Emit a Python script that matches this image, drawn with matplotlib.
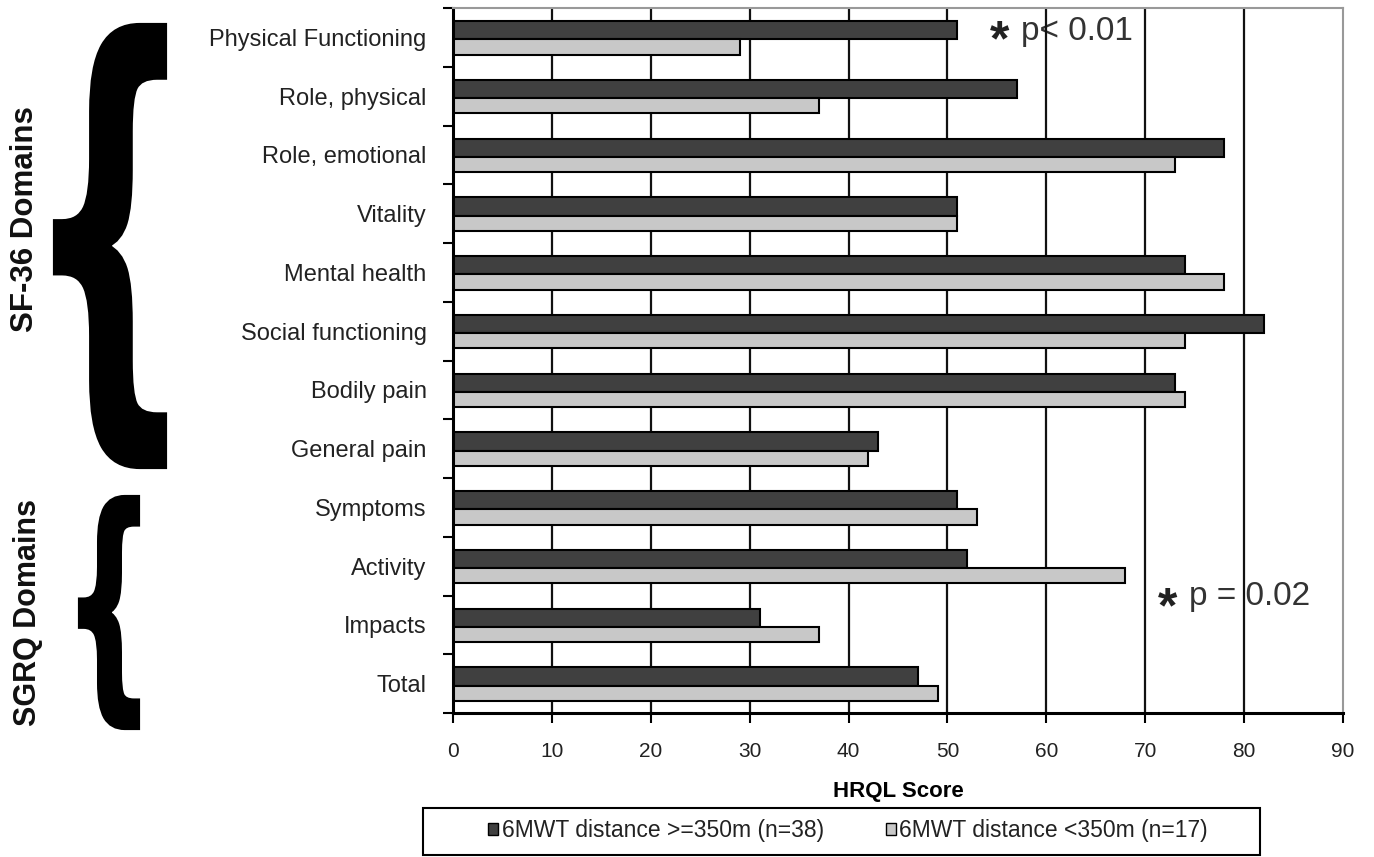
import numpy as np
import matplotlib
matplotlib.use("Agg")
import matplotlib.pyplot as plt
from matplotlib.textpath import TextPath
from matplotlib.font_manager import FontProperties
from matplotlib.patches import PathPatch, Patch, Rectangle
from matplotlib.transforms import Affine2D

plt.rcParams["font.family"] = ["Liberation Sans", "DejaVu Sans"]

# Data
domains = ["Physical Functioning", "Role, physical", "Role, emotional", "Vitality",
           "Mental health", "Social functioning", "Bodily pain", "General pain",
           "Symptoms", "Activity", "Impacts", "Total"]
high_walk = [51, 57, 78, 51, 74, 82, 73, 43, 51, 52, 31, 47]   # >=350m
low_walk = [29, 37, 73, 51, 78, 74, 74, 42, 53, 68, 37, 49]    # <350m
xticks = list(range(0, 91, 10))
label_high = "6MWT distance >=350m (n=38)"
label_low = "6MWT distance <350m (n=17)"

W, H = 1374, 857
fig = plt.figure(figsize=(W / 100, H / 100), dpi=100)
ax = fig.add_axes([453 / W, 1 - 713 / H, (1343 - 453) / W, 705 / H])

y = np.arange(len(domains))
dark = "#404040"
light = "#c8c8c8"

for gx in xticks[1:-1]:
    ax.axvline(gx, color="#111111", lw=1.6, zorder=1)

ax.barh(y - 0.12, high_walk, height=0.31, color=dark, edgecolor="black", lw=1.5, zorder=2)
ax.barh(y + 0.165, low_walk, height=0.26, color=light, edgecolor="black", lw=1.5, zorder=2)

ax.set_xlim(0, 90)
ax.set_ylim(len(domains) - 0.5, -0.5)
ax.set_xticks(xticks)
ax.set_xticklabels([str(v) for v in xticks], fontsize=15, color="#222222")
ax.tick_params(axis="x", length=7, width=1.5, direction="out", pad=14)
ax.set_yticks(y)
ax.set_yticklabels(domains, fontsize=17, color="#222222")
ax.set_yticks(np.arange(-0.5, len(domains)), minor=True)
ax.tick_params(axis="y", which="major", length=0, pad=19)
ax.tick_params(axis="y", which="minor", length=7, width=1.5, direction="out")
ax.set_xlabel("HRQL Score", fontsize=16, fontweight="bold", labelpad=14)

for side in ["left", "bottom"]:
    ax.spines[side].set_linewidth(2.2)
    ax.spines[side].set_color("black")
for side in ["top", "right"]:
    ax.spines[side].set_linewidth(1.5)
    ax.spines[side].set_color("#999999")

# significance notes
ax.text(55.3, 0.08, "*", fontsize=36, fontweight="bold", ha="center", va="center", color="#222222", zorder=0.5)
ax.text(57.4, 0.045, "p< 0.01", fontsize=24, ha="left", va="baseline", color="#333333", zorder=0.5)
ax.text(72.3, 9.74, "*", fontsize=36, fontweight="bold", ha="center", va="center", color="#222222", zorder=0.5)
ax.text(74.4, 9.66, "p = 0.02", fontsize=24, ha="left", va="baseline", color="#333333", zorder=0.5)

# legend (box drawn separately to match its wide side padding)
fig.add_artist(Rectangle((423 / W, 1 - 855 / H), (1260 - 423) / W, 47 / H,
                         transform=fig.transFigure, facecolor="white",
                         edgecolor="black", lw=1.5))
handles = [Patch(facecolor=dark, edgecolor="black", label=label_high),
           Patch(facecolor=light, edgecolor="black", label=label_low)]
leg = fig.legend(handles=handles, loc="center", ncol=2, fontsize=16.5,
                 bbox_to_anchor=(848 / W, 1 - 831 / H), frameon=False,
                 handlelength=0.45, handleheight=0.45, handletextpad=0.15, columnspacing=2.7,
                 borderpad=0, borderaxespad=0)
for t in leg.get_texts():
    t.set_color("#222222")


# curly braces
def brace(x0, y0, x1, y1):
    fp = FontProperties(family="DejaVu Sans", weight="bold")
    tp = TextPath((0, 0), "{", size=1, prop=fp)
    bb = tp.get_extents()
    fx0, fx1 = x0 / W, x1 / W
    fy0, fy1 = 1 - y1 / H, 1 - y0 / H
    tr = (Affine2D().translate(-bb.x0, -bb.y0)
          .scale((fx1 - fx0) / bb.width, (fy1 - fy0) / bb.height)
          .translate(fx0, fy0) + fig.transFigure)
    fig.add_artist(PathPatch(tp, transform=tr, facecolor="black", edgecolor="black", lw=3))


brace(55, 25, 165, 467)
brace(80, 497, 138, 728)

fig.text(25 / W, 1 - 219 / H, "SF-36 Domains", rotation=90, fontsize=22.5,
         fontweight="bold", ha="center", va="center", color="#111111")
fig.text(28 / W, 1 - 613 / H, "SGRQ Domains", rotation=90, fontsize=22,
         fontweight="bold", ha="center", va="center", color="#111111")

fig.savefig("out.png", dpi=100)
